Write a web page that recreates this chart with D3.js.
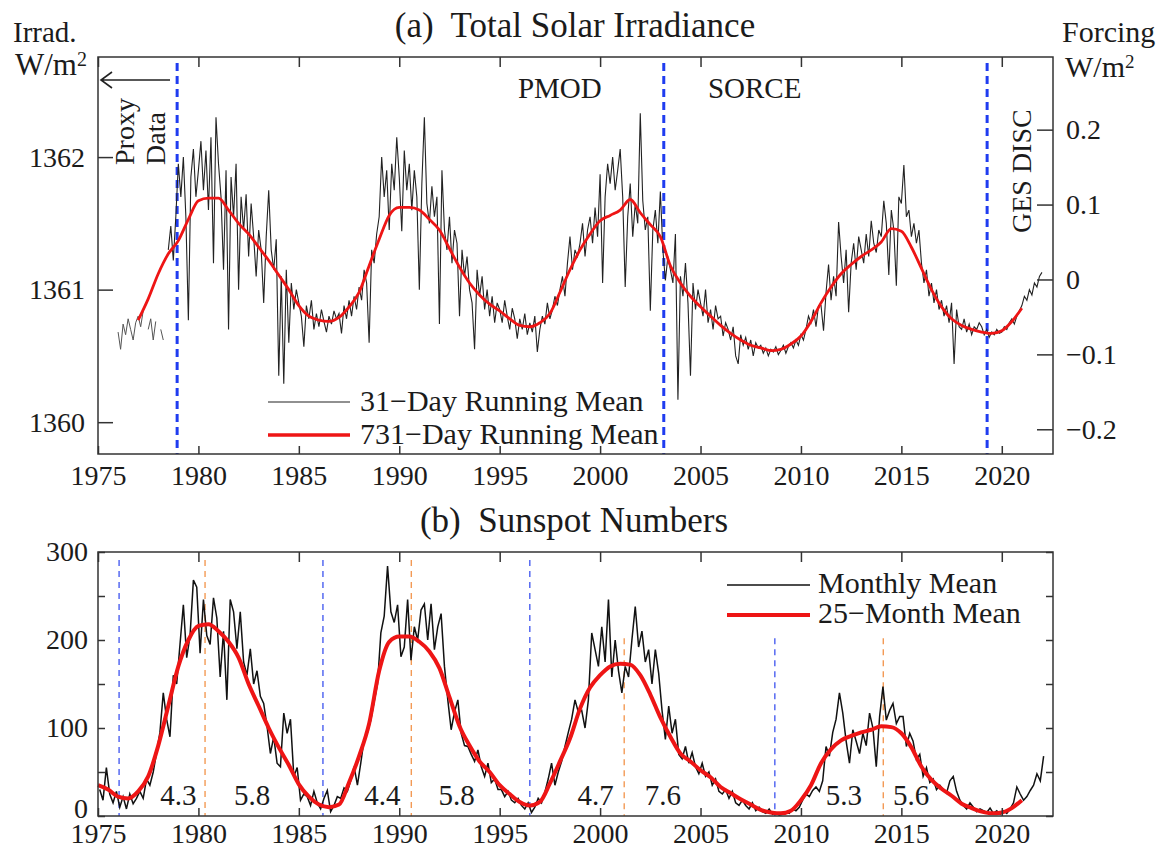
<!DOCTYPE html>
<html>
<head>
<meta charset="utf-8">
<script src="https://cdn.jsdelivr.net/npm/d3@7"></script>
<style>
  body { margin: 0; background: #fff; }
  svg text { font-family: "Liberation Serif", "Times New Roman", serif; fill: #1b1b1b; }
</style>
</head>
<body>
<svg id="chart" width="1172" height="850"></svg>
<script>
// ---------------- data ----------------
var yearTicks = [1975, 1980, 1985, 1990, 1995, 2000, 2005, 2010, 2015, 2020];
var tsiTicks = [1360, 1361, 1362];
var forcingTicks = [-0.2, -0.1, 0, 0.1, 0.2];
var ssnTicks = [0, 50, 100, 150, 200, 250, 300];
var ssnLabelTicks = [0, 100, 200, 300];

// proxy TSI, 8 values per year from 1976.0
var tsiProxyStart = 1976.0;
var tsiProxy = [
  1360.68, 1360.55, 1360.74, 1360.66, 1360.78, 1360.70, 1360.62, 1360.75,
  1360.80, 1360.72, 1360.84, null, 1360.70, 1360.78, 1360.62, 1360.76,
  null, 1360.70, 1360.62
];

// 31-day running mean TSI, 8 values per year from 1978.5
var tsi31Start = 1978.5;
var tsi31 = [
  1361.30, 1361.48, 1361.22, 1361.55,
  1361.95, 1361.70, 1362.00, 1361.55, 1360.77, 1361.85, 1362.06, 1361.70,
  1361.90, 1362.12, 1361.75, 1362.05, 1361.60, 1362.15, 1361.20, 1362.30,
  1361.95, 1361.70, 1361.15, 1361.90, 1360.70, 1361.85, 1361.55, 1361.95,
  1361.00, 1361.70, 1361.45, 1361.72, 1361.25, 1361.65, 1361.40, 1361.10,
  1361.45, 1361.30, 1360.90, 1361.40, 1361.75, 1361.30, 1361.15, 1361.38,
  1360.35, 1361.10, 1360.29, 1361.15, 1360.60, 1361.05, 1360.85, 1361.00,
  1360.90, 1360.80, 1360.57, 1360.88, 1360.78, 1360.92, 1360.70, 1360.82,
  1360.72, 1360.85, 1360.76, 1360.68, 1360.80, 1360.74, 1360.84, 1360.78,
  1360.82, 1360.67, 1360.88, 1360.78, 1360.92, 1360.80, 1360.95, 1360.85,
  1361.02, 1360.92, 1361.15, 1361.05, 1360.60, 1361.30, 1361.20, 1361.42,
  1361.55, 1362.00, 1361.70, 1361.90, 1361.45, 1361.95, 1361.75, 1362.15,
  1361.85, 1361.44, 1362.05, 1361.75, 1361.95, 1361.60, 1361.90, 1361.70,
  1361.00, 1361.80, 1362.30, 1361.65, 1361.50, 1361.78, 1361.55, 1361.70,
  1360.74, 1361.90, 1361.45, 1361.30, 1361.55, 1361.20, 1361.45, 1361.35,
  1360.80, 1361.30, 1361.10, 1361.25, 1361.00, 1360.90, 1360.55, 1361.15,
  1360.95, 1361.10, 1360.85, 1361.00, 1360.80, 1360.95, 1360.75, 1360.90,
  1360.85, 1360.75, 1360.92, 1360.80, 1360.70, 1360.86, 1360.78, 1360.63,
  1360.78, 1360.70, 1360.82, 1360.66, 1360.75, 1360.68, 1360.80, 1360.53,
  1360.70, 1360.80, 1360.74, 1360.90, 1360.78, 1360.85, 1360.95, 1360.88,
  1361.00, 1361.10, 1360.95, 1361.20, 1361.40, 1361.15, 1361.30, 1361.25,
  1361.35, 1361.50, 1361.25, 1361.45, 1361.55, 1361.35, 1361.62, 1361.40,
  1361.87, 1361.05, 1361.70, 1361.95, 1361.80, 1362.00, 1361.75, 1361.90,
  1362.06, 1361.70, 1361.02, 1361.55, 1361.80, 1361.40, 1361.65, 1361.50,
  1362.33, 1361.67, 1361.45, 1361.55, 1360.84, 1361.45, 1361.60, 1361.35,
  1361.74, 1361.30, 1361.07, 1361.25, 1361.15, 1361.05, 1361.42, 1360.17,
  1361.10, 1360.95, 1361.20, 1360.90, 1360.35, 1361.05, 1360.85, 1361.00,
  1360.90, 1360.80, 1361.00, 1360.75, 1360.85, 1360.70, 1360.88, 1360.78,
  1360.80, 1360.65, 1360.75, 1360.70, 1360.62, 1360.72, 1360.50, 1360.44,
  1360.66, 1360.58, 1360.64, 1360.55, 1360.62, 1360.50, 1360.60, 1360.56,
  1360.58, 1360.52, 1360.56, 1360.50, 1360.55, 1360.53, 1360.57, 1360.51,
  1360.54, 1360.58, 1360.52, 1360.57, 1360.60, 1360.56, 1360.62, 1360.58,
  1360.66, 1360.62, 1360.70, 1360.80, 1360.75, 1360.85, 1360.72, 1360.88,
  1360.88, 1360.69, 1360.98, 1361.19, 1360.92, 1361.10, 1360.95, 1361.51,
  1361.25, 1361.05, 1361.30, 1360.83, 1361.20, 1361.35, 1361.15, 1361.40,
  1361.30, 1361.20, 1361.42, 1361.25, 1361.52, 1361.35, 1361.28, 1361.45,
  1361.40, 1361.67, 1361.50, 1361.11, 1361.60, 1361.45, 1361.03, 1361.70,
  1361.65, 1361.94, 1361.55, 1361.60, 1361.40, 1361.50, 1361.35, 1361.45,
  1361.20, 1361.05, 1361.15, 1360.95, 1361.05, 1360.90, 1361.00, 1360.85,
  1360.92, 1360.80, 1360.88, 1360.75, 1360.90, 1360.44, 1360.85, 1360.72,
  1360.70, 1360.78, 1360.68, 1360.74, 1360.66, 1360.72, 1360.70, 1360.75,
  1360.72, 1360.66, 1360.70, 1360.64, 1360.68, 1360.66, 1360.70, 1360.67,
  1360.68, 1360.72, 1360.70, 1360.75, 1360.78, 1360.74, 1360.80, 1360.84,
  1360.88, 1360.95, 1360.92, 1361.00, 1360.96, 1361.05, 1361.02, 1361.10,
  1361.13
];

// 731-day running mean TSI, every half year from 1977.0
var tsi731Start = 1977.0;
var tsi731 = [
  1360.77, 1360.93, 1361.12, 1361.27, 1361.37, 1361.53, 1361.67, 1361.69,
  1361.69, 1361.60, 1361.50, 1361.42, 1361.32, 1361.22, 1361.11, 1361.00,
  1360.88, 1360.80, 1360.77, 1360.76, 1360.79, 1360.87, 1360.98, 1361.18,
  1361.38, 1361.56, 1361.62, 1361.62, 1361.60, 1361.53, 1361.45, 1361.31,
  1361.17, 1361.05, 1360.96, 1360.89, 1360.84, 1360.78, 1360.73, 1360.72,
  1360.75, 1360.82, 1360.98, 1361.15, 1361.30, 1361.42, 1361.52, 1361.56,
  1361.60, 1361.68, 1361.58, 1361.49, 1361.40, 1361.18, 1361.05, 1360.95,
  1360.87, 1360.80, 1360.73, 1360.67, 1360.62, 1360.58, 1360.56, 1360.54,
  1360.55, 1360.59, 1360.65, 1360.76, 1360.90, 1361.02, 1361.12, 1361.19,
  1361.25, 1361.30, 1361.36, 1361.46, 1361.44, 1361.32, 1361.16, 1361.00,
  1360.87, 1360.78, 1360.73, 1360.70, 1360.68, 1360.67, 1360.69, 1360.76,
  1360.86
];

var instrumentChanges = [1978.94, 2003.17, 2019.27];

// sunspot number, 6 values per year from 1975
var ssnStart = 1975.0;
var ssnMonthly = [
  30, 18, 55, 25, 15, 28,
  10, 22, 8, 25, 14, 20,
  28, 20, 42, 35, 50, 72,
  95, 140, 110, 90, 160, 150,
  195, 240, 180, 205, 268, 260,
  185, 246, 205, 195, 248, 225,
  158, 210, 132, 246, 232, 190,
  232, 175, 160, 190, 150, 165,
  136, 128, 102, 71, 90, 60,
  56, 117, 94, 110, 45, 55,
  18, 25, 22, 12, 28, 15,
  8, 20, 29, 5, 12, 22,
  20, 32, 28, 40, 56, 35,
  60, 87, 95, 109, 130, 150,
  208, 227, 284, 232, 220, 240,
  181, 192, 246, 177, 215, 200,
  234, 241, 200, 241, 189, 215,
  230, 170, 132, 98, 118, 132,
  94, 80, 79, 70, 62, 75,
  56, 45, 60, 38, 42, 30,
  30, 22, 28, 18, 15, 20,
  12, 8, 15, 4, 10, 20,
  15, 27, 42, 60, 35, 50,
  62, 79, 95, 110, 132, 118,
  120, 100, 132, 208, 189, 170,
  215, 175, 246, 158, 200, 165,
  140, 170, 158, 200, 238, 192,
  210, 175, 189, 150, 189, 162,
  120, 87, 125, 94, 110, 70,
  65, 79, 60, 72, 56, 48,
  60, 45, 50, 35, 42, 28,
  25, 30, 20, 28, 15, 12,
  18, 12, 8, 15, 6, 10,
  5, 3, 8, 2, 4, 1,
  2, 4, 3, 8, 6, 10,
  18, 25, 22, 29, 33, 28,
  40, 79, 68, 95, 110, 140,
  117, 85, 60, 98, 85, 71,
  94, 80, 117, 100, 56, 113,
  147, 109, 120, 128, 105, 113,
  113, 79, 94, 85, 64, 70,
  45, 55, 38, 42, 30, 35,
  30, 26, 40, 45, 28, 18,
  12, 8, 15, 10, 5, 8,
  6, 4, 9, 3, 6, 2,
  6, 3, 8, 15, 33, 25,
  18, 22, 29, 35, 48, 40,
  68
];

// 25-month mean, every half year from 1975.0
var ssn25Start = 1975.0;
var ssn25 = [
  35, 30, 22, 20, 28, 45, 80, 125, 170, 200,
  216, 218, 210, 198, 180, 150, 125, 100, 78, 58,
  36, 22, 13, 10, 13, 38, 68, 105, 165, 198,
  204, 204, 198, 187, 168, 135, 102, 80, 62, 50,
  35, 25, 16, 12, 16, 37, 62, 88, 122, 146,
  160, 170, 173, 172, 160, 138, 112, 90, 71, 62,
  52, 44, 33, 26, 19, 13, 7, 4, 3, 6,
  18, 35, 60, 76, 86, 91, 95, 98, 102, 101,
  94, 78, 56, 41, 31, 23, 14, 9, 5, 3,
  4, 9, 18
];

var cycleMinima = [1976.05, 1986.2, 1996.5, 2008.7];
var cycleMaxima = [1980.33, 1990.6, 2001.2, 2014.1];
var phaseLengths = ["4.3", "5.8", "4.4", "5.8", "4.7", "7.6", "5.3", "5.6"];
var phaseYears = [1979.0, 1982.68, 1989.16, 1992.85, 1999.78, 2003.12, 2012.14, 2015.48];

// ---------------- layout ----------------
var panelA = {left: 98, right: 1053, top: 57, bottom: 454};
var panelB = {left: 98, right: 1053, top: 552, bottom: 816};

var svg = d3.select("#chart");

function toPoints(values, start, step) {
  return values.map(function(v, i) { return {t: start + i * step, v: v}; });
}

var x = d3.scaleLinear().domain([1975, 2022.55]).range([panelA.left, panelA.right]);
var yA = d3.scaleLinear().domain([1359.76, 1362.755]).range([panelA.bottom, panelA.top]);
var yF = d3.scaleLinear().domain([-0.233, 0.297]).range([panelA.bottom, panelA.top]);
var yB = d3.scaleLinear().domain([0, 300]).range([panelB.bottom, panelB.top]);

function styleAxis(g, size) {
  g.select(".domain").remove();
  g.selectAll(".tick line").attr("stroke", "#333").attr("stroke-width", 1.5);
  g.selectAll(".tick text").style("font-size", size + "px").attr("fill", "#1b1b1b");
}

// ================= panel (a) =================
var gA = svg.append("g");

// blue dashed instrument changes
gA.selectAll(".instr")
  .data(instrumentChanges)
  .enter().append("line")
  .attr("x1", function(d) { return x(d); })
  .attr("x2", function(d) { return x(d); })
  .attr("y1", panelA.top + 6)
  .attr("y2", panelA.bottom)
  .attr("stroke", "#1f3cf0")
  .attr("stroke-width", 3)
  .attr("stroke-dasharray", "8,5");

var lineA = d3.line()
  .defined(function(d) { return d.v != null; })
  .x(function(d) { return x(d.t); })
  .y(function(d) { return yA(d.v); });

gA.append("path")
  .datum(toPoints(tsiProxy, tsiProxyStart, 1 / 8))
  .attr("fill", "none")
  .attr("stroke", "#555")
  .attr("stroke-width", 1)
  .attr("d", lineA);

gA.append("path")
  .datum(toPoints(tsi31, tsi31Start, 1 / 8))
  .attr("fill", "none")
  .attr("stroke", "#222")
  .attr("stroke-width", 1.1)
  .attr("d", lineA);

gA.append("path")
  .datum(toPoints(tsi731, tsi731Start, 0.5))
  .attr("fill", "none")
  .attr("stroke", "#ee1515")
  .attr("stroke-width", 2.8)
  .attr("d", lineA.curve(d3.curveMonotoneX));
lineA.curve(d3.curveLinear);

// axes
gA.append("g")
  .attr("transform", "translate(0," + panelA.bottom + ")")
  .call(d3.axisBottom(x).tickValues(yearTicks).tickFormat(d3.format("d"))
    .tickSizeInner(-8).tickSizeOuter(0).tickPadding(11))
  .call(styleAxis, 28);
gA.append("g")
  .attr("transform", "translate(0," + panelA.top + ")")
  .call(d3.axisTop(x).tickValues(yearTicks).tickFormat("")
    .tickSizeInner(-10).tickSizeOuter(0))
  .call(styleAxis, 28);
gA.append("g")
  .attr("transform", "translate(" + panelA.left + ",0)")
  .call(d3.axisLeft(yA).tickValues(tsiTicks).tickFormat(d3.format("d"))
    .tickSizeInner(-15).tickSizeOuter(0).tickPadding(13))
  .call(styleAxis, 28);
gA.append("g")
  .attr("transform", "translate(" + panelA.right + ",0)")
  .call(d3.axisRight(yF).tickValues(forcingTicks)
    .tickFormat(function(d) { return d === 0 ? "0" : d3.format(".1f")(d); })
    .tickSizeInner(-16).tickSizeOuter(0).tickPadding(13))
  .call(styleAxis, 28);

gA.append("rect")
  .attr("x", panelA.left).attr("y", panelA.top)
  .attr("width", panelA.right - panelA.left)
  .attr("height", panelA.bottom - panelA.top)
  .attr("fill", "none").attr("stroke", "#333").attr("stroke-width", 1.5);

// titles and units
svg.append("text").attr("x", 575).attr("y", 37).attr("text-anchor", "middle")
  .style("font-size", "35px").style("white-space", "pre").text("(a)  Total Solar Irradiance");

svg.append("text").attr("x", 13).attr("y", 42).style("font-size", "29px").text("Irrad.");
var wl = svg.append("text").attr("x", 15).attr("y", 75).style("font-size", "31px");
wl.append("tspan").text("W/m");
wl.append("tspan").attr("dy", -9).style("font-size", "20px").text("2");

svg.append("text").attr("x", 1062).attr("y", 42).style("font-size", "30px").text("Forcing");
var wr = svg.append("text").attr("x", 1065).attr("y", 77).style("font-size", "30px");
wr.append("tspan").text("W/m");
wr.append("tspan").attr("dy", -9).style("font-size", "19px").text("2");

// instrument labels
svg.append("text").attr("x", x(1995.91)).attr("y", 98).style("font-size", "29px").text("PMOD");
svg.append("text").attr("x", x(2005.37)).attr("y", 98).style("font-size", "29px").text("SORCE");
svg.append("text").attr("transform", "translate(1031,233) rotate(-90)")
  .style("font-size", "28px").text("GES DISC");
svg.append("text").attr("transform", "translate(134,165) rotate(-90)")
  .style("font-size", "28px").text("Proxy");
svg.append("text").attr("transform", "translate(165,165) rotate(-90)")
  .style("font-size", "28px").text("Data");

// arrow to the proxy period
svg.append("path")
  .attr("d", "M170,80 L101,80 M112,72 L101,80 L112,88")
  .attr("fill", "none").attr("stroke", "#222").attr("stroke-width", 1.6);

// legend (a)
var legA = [
  {label: "31\u2212Day Running Mean", color: "#222", w: 1.2, y: 402},
  {label: "731\u2212Day Running Mean", color: "#ee1515", w: 3.5, y: 435}
];
legA.forEach(function(d) {
  svg.append("line").attr("x1", 268).attr("x2", 350).attr("y1", d.y).attr("y2", d.y)
    .attr("stroke", d.color).attr("stroke-width", d.w);
  svg.append("text").attr("x", 360).attr("y", d.y + 9).style("font-size", "30px").text(d.label);
});

// ================= panel (b) =================
var gB = svg.append("g");

gB.selectAll(".cmin")
  .data(cycleMinima)
  .enter().append("line")
  .attr("x1", function(d) { return x(d); })
  .attr("x2", function(d) { return x(d); })
  .attr("y1", function(d) { return d > 2000 ? yB(202) : yB(291); })
  .attr("y2", panelB.bottom)
  .attr("stroke", "#4a5ff0")
  .attr("stroke-width", 1.4)
  .attr("stroke-dasharray", "6,5");

gB.selectAll(".cmax")
  .data(cycleMaxima)
  .enter().append("line")
  .attr("x1", function(d) { return x(d); })
  .attr("x2", function(d) { return x(d); })
  .attr("y1", function(d) { return d > 2000 ? yB(202) : yB(291); })
  .attr("y2", panelB.bottom)
  .attr("stroke", "#f39a55")
  .attr("stroke-width", 1.4)
  .attr("stroke-dasharray", "6,5");

var lineB = d3.line()
  .x(function(d) { return x(d.t); })
  .y(function(d) { return yB(d.v); });

gB.append("path")
  .datum(toPoints(ssnMonthly, ssnStart + 1 / 12, 1 / 6))
  .attr("fill", "none")
  .attr("stroke", "#111")
  .attr("stroke-width", 1.5)
  .attr("d", lineB);

gB.append("path")
  .datum(toPoints(ssn25, ssn25Start, 0.5))
  .attr("fill", "none")
  .attr("stroke", "#ee1515")
  .attr("stroke-width", 4)
  .attr("d", lineB.curve(d3.curveMonotoneX));

gB.selectAll(".phase")
  .data(phaseLengths)
  .enter().append("text")
  .attr("x", function(d, i) { return x(phaseYears[i]); })
  .attr("y", 805)
  .attr("text-anchor", "middle")
  .style("font-size", "29px")
  .text(function(d) { return d; });

gB.append("g")
  .attr("transform", "translate(0," + panelB.bottom + ")")
  .call(d3.axisBottom(x).tickValues(yearTicks).tickFormat(d3.format("d"))
    .tickSizeInner(-8).tickSizeOuter(0).tickPadding(7))
  .call(styleAxis, 28);
gB.append("g")
  .attr("transform", "translate(0," + panelB.top + ")")
  .call(d3.axisTop(x).tickValues(yearTicks).tickFormat("")
    .tickSizeInner(-10).tickSizeOuter(0))
  .call(styleAxis, 28);
var axB = gB.append("g")
  .attr("transform", "translate(" + panelB.left + ",0)")
  .call(d3.axisLeft(yB).tickValues(ssnTicks)
    .tickFormat(function(d) { return ssnLabelTicks.indexOf(d) >= 0 ? d : ""; })
    .tickSizeInner(-7).tickSizeOuter(0).tickPadding(10))
  .call(styleAxis, 28);
// the zero label sits a little above its tick, clear of the year labels
axB.selectAll(".tick text").filter(function(d) { return d === 0; }).attr("y", -7);
gB.append("g")
  .attr("transform", "translate(" + panelB.right + ",0)")
  .call(d3.axisRight(yB).tickValues(ssnTicks).tickFormat("")
    .tickSizeInner(-7).tickSizeOuter(0))
  .call(styleAxis, 28);

gB.append("rect")
  .attr("x", panelB.left).attr("y", panelB.top)
  .attr("width", panelB.right - panelB.left)
  .attr("height", panelB.bottom - panelB.top)
  .attr("fill", "none").attr("stroke", "#333").attr("stroke-width", 1.5);

svg.append("text").attr("x", 574).attr("y", 532).attr("text-anchor", "middle")
  .style("font-size", "35px").style("white-space", "pre").text("(b)  Sunspot Numbers");

// legend (b)
var legB = [
  {label: "Monthly Mean", color: "#111", w: 1.5, y: 585},
  {label: "25\u2212Month Mean", color: "#ee1515", w: 4, y: 615}
];
legB.forEach(function(d) {
  svg.append("line").attr("x1", 727).attr("x2", 810).attr("y1", d.y).attr("y2", d.y)
    .attr("stroke", d.color).attr("stroke-width", d.w);
  svg.append("text").attr("x", 818).attr("y", d.y + 8).style("font-size", "30px").text(d.label);
});
</script>
</body>
</html>
